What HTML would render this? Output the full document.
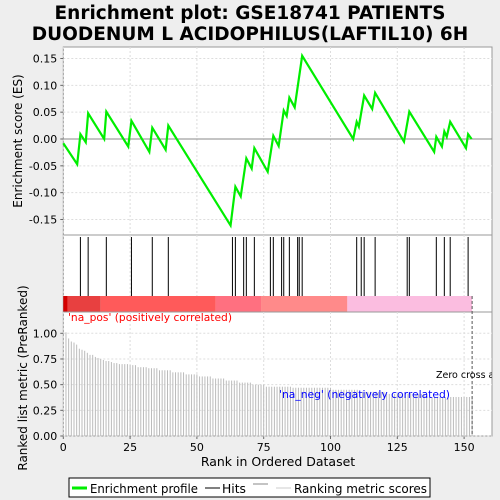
<!DOCTYPE html>
<html><head><meta charset="utf-8"><style>
body{margin:0;background:#eeeeee;}
svg{display:block;font-family:"DejaVu Sans","Liberation Sans",sans-serif;}
</style></head><body>
<svg id="c" width="500" height="500" xmlns="http://www.w3.org/2000/svg">
<rect width="500" height="500" fill="#eeeeee"/>
<text x="250" y="19" text-anchor="middle" font-size="18.5" font-weight="bold">Enrichment plot: GSE18741 PATIENTS</text>
<text x="250" y="40" text-anchor="middle" font-size="18.5" font-weight="bold">DUODENUM L ACIDOPHILUS(LAFTIL10) 6H</text>
<g id="gtop"></g><g id="ghits"></g><g id="gbot"></g>
<g>
<rect x="69" y="478" width="361" height="19" fill="#fff" stroke="#000"/>
<line x1="72" y1="488" x2="87" y2="488" stroke="#00ee00" stroke-width="3"/>
<text x="90" y="493" font-size="12.5" textLength="108" lengthAdjust="spacingAndGlyphs">Enrichment profile</text>
<line x1="205" y1="488" x2="220" y2="488" stroke="#000"/>
<text x="222" y="493" font-size="12.5" textLength="24" lengthAdjust="spacingAndGlyphs">Hits</text>
<line x1="253" y1="484" x2="268" y2="484" stroke="#888"/>
<line x1="276" y1="488" x2="291" y2="488" stroke="#ccc"/>
<text x="294" y="493" font-size="12.5" textLength="133" lengthAdjust="spacingAndGlyphs">Ranking metric scores</text>
</g>
</svg>
<script>
const esRanks=[0,5.2,6.4,8.4,9.3,15.3,16.1,24.3,25.5,32.2,33.3,38.3,39.3,62.6,64.4,66.4,68.5,70.5,71.5,76.5,78.6,80.6,82.5,83.6,84.6,86.6,89.4,108.5,109.8,110.6,112.6,115.6,116.7,127.5,129.5,138.8,139.6,141.7,142.6,143.5,144.8,150.7,151.5,152.8];
const esValues=[-0.008,-0.047,0.009,-0.006,0.048,0.0,0.051,-0.014,0.034,-0.024,0.021,-0.020,0.025,-0.161,-0.089,-0.107,-0.036,-0.055,-0.017,-0.061,0.006,-0.013,0.053,0.043,0.077,0.059,0.155,0.0,0.032,0.023,0.081,0.056,0.086,-0.005,0.051,-0.024,0.004,-0.014,0.014,0.004,0.032,-0.017,0.009,0.0];
const hitRanks=[6.4,9.3,16.1,25.5,33.3,39.3,63.3,64.4,67.5,68.5,71.5,77.5,78.6,81.7,82.5,84.6,87.7,88.3,89.4,109.8,111.5,112.6,116.7,128.7,129.5,139.6,142.6,144.8,151.5];
const metric=[1.01,0.95,0.92,0.91,0.89,0.85,0.84,0.83,0.81,0.79,0.79,0.77,0.76,0.75,0.74,0.73,0.73,0.72,0.71,0.71,0.70,0.70,0.70,0.70,0.69,0.69,0.69,0.67,0.67,0.67,0.67,0.66,0.66,0.66,0.66,0.64,0.64,0.64,0.64,0.64,0.62,0.62,0.62,0.62,0.62,0.60,0.60,0.60,0.60,0.60,0.58,0.58,0.58,0.58,0.58,0.56,0.56,0.56,0.56,0.56,0.54,0.54,0.54,0.54,0.54,0.52,0.52,0.52,0.52,0.52,0.50,0.50,0.50,0.50,0.50,0.48,0.48,0.48,0.48,0.48,0.48,0.48,0.48,0.48,0.48,0.47,0.47,0.47,0.47,0.47,0.47,0.47,0.47,0.47,0.47,0.47,0.47,0.47,0.47,0.47,0.45,0.45,0.45,0.45,0.45,0.45,0.45,0.45,0.45,0.45,0.43,0.43,0.43,0.43,0.43,0.43,0.43,0.43,0.43,0.43,0.41,0.41,0.41,0.41,0.41,0.41,0.41,0.41,0.41,0.41,0.41,0.41,0.41,0.41,0.41,0.38,0.38,0.38,0.38,0.38,0.38,0.38,0.38,0.38,0.38,0.38,0.38,0.38,0.38,0.38,0.38,0.38,0.38];
const xTicks=[0,25,50,75,100,125,150];
const esTicks=[0.15,0.10,0.05,0.00,-0.05,-0.10,-0.15];
const mTicks=[1.00,0.75,0.50,0.25,0.00];
const NS="http://www.w3.org/2000/svg";
const L=63.3,R=492,PX=2.672;
const xs=r=>L+r*PX;
const yES=v=>139-v/0.15*80.5;
const yM=v=>436-v*102.7;
function mk(p,t,a){const e=document.createElementNS(NS,t);for(const k in a)e.setAttribute(k,a[k]);p.appendChild(e);return e;}
const gTop=document.getElementById('gtop'),gHits=document.getElementById('ghits'),gBot=document.getElementById('gbot');
// top panel
const tb=mk(gTop,'rect',{x:L,y:47,width:R-L,height:188,fill:'#fff',stroke:'#999'});


xTicks.forEach(t=>{mk(gTop,'line',{x1:xs(t),x2:xs(t),y1:47,y2:235,stroke:'#ddd','stroke-dasharray':'2,2'});});
esTicks.forEach(t=>{const y=yES(t);mk(gTop,'line',{x1:L,x2:R,y1:y,y2:y,stroke:'#ddd','stroke-dasharray':'2,2'});
 mk(gTop,'line',{x1:L-3,x2:L,y1:y,y2:y,stroke:'#666'});
 const tx=mk(gTop,'text',{x:L-6,y:y+4,'text-anchor':'end','font-size':11});tx.textContent=t.toFixed(2);
 
 });
mk(gTop,'line',{x1:L,x2:R,y1:yES(0),y2:yES(0),stroke:'#888'});
const yt=mk(gTop,'text',{x:22,y:141,'text-anchor':'middle','font-size':12,transform:'rotate(-90 22 141)'});yt.textContent='Enrichment score (ES)';


const pl=mk(gTop,'polyline',{points:esRanks.map((r,i)=>xs(r)+','+yES(esValues[i])).join(' '),fill:'none',stroke:'#00ee00','stroke-width':2.2});


// hits panel
const hb=mk(gHits,'rect',{x:L,y:235,width:R-L,height:77,fill:'#fff',stroke:'#999'});


xTicks.forEach(t=>{mk(gHits,'line',{x1:xs(t),x2:xs(t),y1:235,y2:296,stroke:'#ddd','stroke-dasharray':'2,2'});});
hitRanks.forEach(r=>{const l=mk(gHits,'line',{x1:xs(r),x2:xs(r),y1:237,y2:296,stroke:'#000'});
 
 });
[[0,1.6,'#d40000'],[1.6,14,'#e84040'],[14,57,'#ff5a5a'],[57,74,'#ff7080'],[74,106.3,'#ff8a8a'],[106.3,153,'#fbbde0']].forEach(s=>{
 const r=mk(gHits,'rect',{x:xs(s[0]),y:296,width:(s[1]-s[0])*PX,height:16,fill:s[2]});
 
 });
// bottom panel
const bb=mk(gBot,'rect',{x:L,y:312,width:R-L,height:124,fill:'#fff',stroke:'#999'});


xTicks.forEach(t=>{const x=xs(t);mk(gBot,'line',{x1:x,x2:x,y1:312,y2:436,stroke:'#ddd','stroke-dasharray':'2,2'});
 mk(gBot,'line',{x1:x,x2:x,y1:436,y2:439,stroke:'#666'});
 const tx=mk(gBot,'text',{x:x,y:451,'text-anchor':'middle','font-size':11});tx.textContent=t;
 
 });
mTicks.forEach(t=>{const y=yM(t);mk(gBot,'line',{x1:L,x2:R,y1:y,y2:y,stroke:'#ddd','stroke-dasharray':'2,2'});
 mk(gBot,'line',{x1:L-3,x2:L,y1:y,y2:y,stroke:'#666'});
 const tx=mk(gBot,'text',{x:L-6,y:y+4,'text-anchor':'end','font-size':11});tx.textContent=t.toFixed(2);
 
 });
metric.forEach((v,i)=>{const x=xs(i+1);const b=mk(gBot,'line',{x1:x,x2:x,y1:yM(v),y2:436,stroke:'#bbb','stroke-width':1});
 
 });
mk(gBot,'line',{x1:xs(153),x2:xs(153),y1:296,y2:436,stroke:'#555','stroke-dasharray':'3,2'});
const t1=mk(gBot,'text',{x:68,y:321,'font-size':11,fill:'#ff0000',textLength:164,lengthAdjust:'spacingAndGlyphs'});t1.textContent="'na_pos' (positively correlated)";


const t2=mk(gBot,'text',{x:279,y:398,'font-size':11,fill:'#0000ff',textLength:171,lengthAdjust:'spacingAndGlyphs'});t2.textContent="'na_neg' (negatively correlated)";


const cp=mk(document.getElementById('c'),'clipPath',{id:'cl'});mk(cp,'rect',{x:0,y:0,width:R,height:500});
const t3=mk(gBot,'text',{x:436,y:378,'font-size':9.5,'clip-path':'url(#cl)'});t3.textContent="Zero cross at 153";


const yt2=mk(gBot,'text',{x:27,y:378,'text-anchor':'middle','font-size':12,transform:'rotate(-90 27 378)'});yt2.textContent='Ranked list metric (PreRanked)';


const xt=mk(gBot,'text',{x:278,y:466,'text-anchor':'middle','font-size':12.5});xt.textContent='Rank in Ordered Dataset';


</script>
</body></html>
